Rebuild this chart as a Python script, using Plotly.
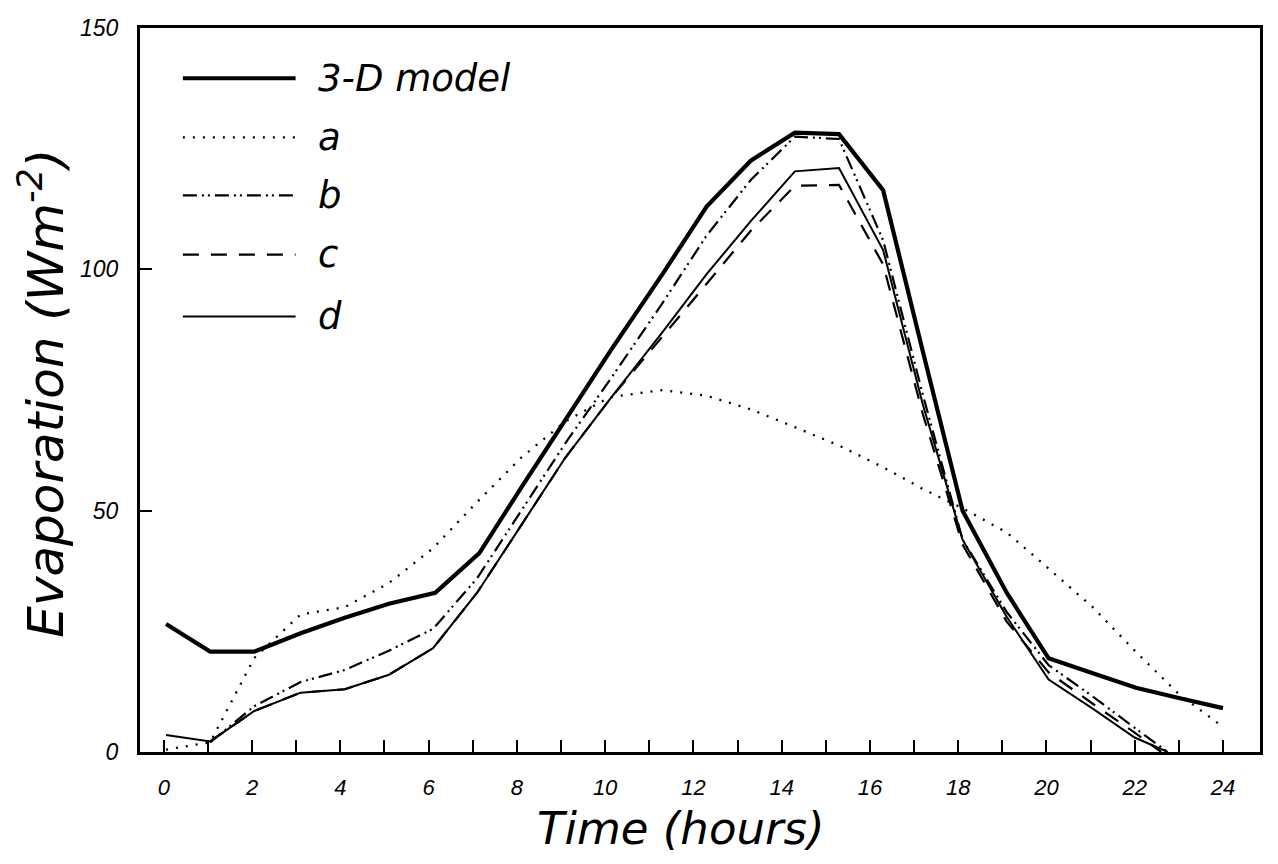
import plotly.graph_objects as go

# ---- data ----
hours_3d = [0.05, 1.05, 2.05, 3.1, 4.1, 5.1, 6.15, 7.15, 8.15, 9.15, 10.15, 11.3, 12.3, 13.3, 14.3, 15.3, 16.3, 17.2, 18.1, 19.1, 20.05, 21.05, 22.03, 23.0, 24.0]
evap_3d = [26.5, 20.8, 20.8, 24.6, 27.8, 30.7, 33.0, 41.2, 55.5, 69.5, 83.5, 99.0, 113.0, 122.5, 128.3, 128.0, 116.4, 83.0, 50.0, 33.0, 19.4, 16.3, 13.3, 11.2, 9.1]

hours_a = [0.05, 1.05, 2.05, 3.1, 4.1, 5.1, 6.1, 7.1, 8.1, 9.1, 10.1, 11.3, 12.3, 13.3, 14.3, 15.3, 16.3, 17.2, 18.1, 19.1, 20.05, 21.05, 22.0, 23.0, 24.0]
evap_a = [0.5, 2.0, 19.5, 28.5, 30.0, 35.0, 42.2, 51.8, 61.0, 68.5, 73.5, 75.0, 73.8, 71.0, 67.3, 63.5, 59.0, 54.5, 50.5, 45.5, 38.0, 30.0, 21.0, 12.0, 5.2]

hours_b = [1.05, 2.05, 3.1, 4.1, 5.1, 6.1, 7.1, 8.1, 9.1, 10.1, 11.3, 12.3, 13.3, 14.3, 15.3, 16.3, 17.2, 18.1, 19.1, 20.05, 21.05, 22.0, 22.75]
evap_b = [2.0, 9.5, 14.5, 17.0, 21.0, 25.5, 36.0, 50.0, 64.0, 77.0, 93.0, 107.0, 118.5, 127.5, 127.0, 106.0, 74.0, 44.0, 29.0, 18.0, 11.5, 5.0, 0.0]

hours_c = [1.05, 2.05, 3.1, 4.1, 5.1, 6.1, 7.1, 8.1, 9.1, 10.1, 11.3, 12.3, 13.3, 14.3, 15.3, 16.3, 17.2, 18.1, 19.1, 20.05, 21.05, 22.0, 22.6]
evap_c = [2.2, 8.5, 12.3, 13.0, 16.0, 21.5, 33.0, 47.0, 61.0, 73.0, 86.0, 97.0, 108.0, 117.3, 117.5, 101.0, 70.0, 43.0, 27.0, 16.5, 10.0, 4.0, 0.0]

hours_d = [0.05, 1.05, 2.05, 3.1, 4.1, 5.1, 6.1, 7.1, 8.1, 9.1, 10.1, 11.3, 12.3, 13.3, 14.3, 15.3, 16.3, 17.2, 18.1, 19.1, 20.05, 21.05, 22.0, 22.75]
evap_d = [3.5, 2.2, 8.5, 12.3, 13.0, 16.0, 21.5, 33.0, 47.0, 61.0, 73.0, 87.0, 99.0, 110.0, 120.3, 121.0, 104.0, 72.0, 44.0, 28.0, 15.0, 9.0, 3.0, 0.0]

x_tick_vals = [0, 2, 4, 6, 8, 10, 12, 14, 16, 18, 20, 22, 24]
y_tick_vals = [0, 50, 100, 150]
legend_labels = ["3-D model", "a", "b", "c", "d"]

# ---- styles ----
styles = [
    dict(width=4.2, dash="solid"),
    dict(width=2.3, dash="2px,8px"),
    dict(width=2.2, dash="14px,5px,2px,4px,2px,5px"),
    dict(width=2.2, dash="16px,12px"),
    dict(width=2.0, dash="solid"),
]
series = [(hours_3d, evap_3d), (hours_a, evap_a), (hours_b, evap_b), (hours_c, evap_c), (hours_d, evap_d)]

fig = go.Figure()
for (xs, ys), st, name in zip(series, styles, legend_labels):
    fig.add_trace(go.Scatter(x=xs, y=ys, mode="lines", name=name,
                             line=dict(color="black", width=st["width"], dash=st["dash"]),
                             showlegend=False))

# page offset (body margin) compensation
OFF = 8
W, H = 1278 - 2 * OFF, 864 - 2 * OFF
# plot area in screen pixels: left 140, right 1263, top 17, bottom 752
L, R, T, B = 140, 1263, 17, 752
def px(xp):
    return (xp - L) / (R - L)
def py(yp):
    return (B - yp) / (B - T)

# manual legend
leg_rows = [68, 128, 187, 247, 310]
for lab, st, yrow in zip(legend_labels, styles, leg_rows):
    fig.add_shape(type="line", xref="paper", yref="paper",
                  x0=px(183), x1=px(296), y0=py(yrow), y1=py(yrow),
                  line=dict(color="black", width=st["width"], dash=st["dash"]))
    fig.add_annotation(xref="paper", yref="paper", x=px(316), y=py(yrow),
                       text=lab, showarrow=False, xanchor="left", yanchor="middle",
                       font=dict(family="DejaVu Sans", size=37, color="black",
                                 style="italic"))

# axis titles
fig.add_annotation(xref="paper", yref="paper", x=px(682), y=py(830),
                   text="Time (hours)", showarrow=False, xanchor="center", yanchor="middle",
                   font=dict(family="DejaVu Sans", size=45, color="black", style="italic"))
fig.add_annotation(xref="paper", yref="paper", x=px(42), y=py(388),
                   text="Evaporation (Wm<sup>-2</sup>)", showarrow=False, textangle=-90,
                   xanchor="center", yanchor="middle",
                   font=dict(family="DejaVu Sans", size=50, color="black", style="italic"))

fig.update_xaxes(range=[-0.54, 24.84], tickvals=x_tick_vals,
                 ticktext=[str(v) for v in x_tick_vals],
                 ticks="inside", ticklen=12, tickwidth=2, tickcolor="black",
                 minor=dict(dtick=1, tick0=0, ticks="inside", ticklen=12, tickwidth=2, tickcolor="black"),
                 showline=True, linecolor="black", linewidth=3, mirror=True,
                 showgrid=False, zeroline=False, ticklabelstandoff=14,
                 tickfont=dict(family="Liberation Sans", size=22, color="black", style="italic"))
fig.update_yaxes(range=[0, 150], tickvals=y_tick_vals,
                 ticks="inside", ticklen=12, tickwidth=2, tickcolor="black",
                 showline=True, linecolor="black", linewidth=3, mirror=True,
                 showgrid=False, zeroline=False, ticklabelstandoff=14,
                 ticklabeloverflow="allow",
                 tickfont=dict(family="Liberation Sans", size=23, color="black", style="italic"))

fig.update_layout(width=W, height=H,
                  margin=dict(l=L - OFF, r=W - (R - OFF), t=T - OFF, b=H - (B - OFF)),
                  paper_bgcolor="white", plot_bgcolor="white", showlegend=False)

fig.write_html("out.html")
